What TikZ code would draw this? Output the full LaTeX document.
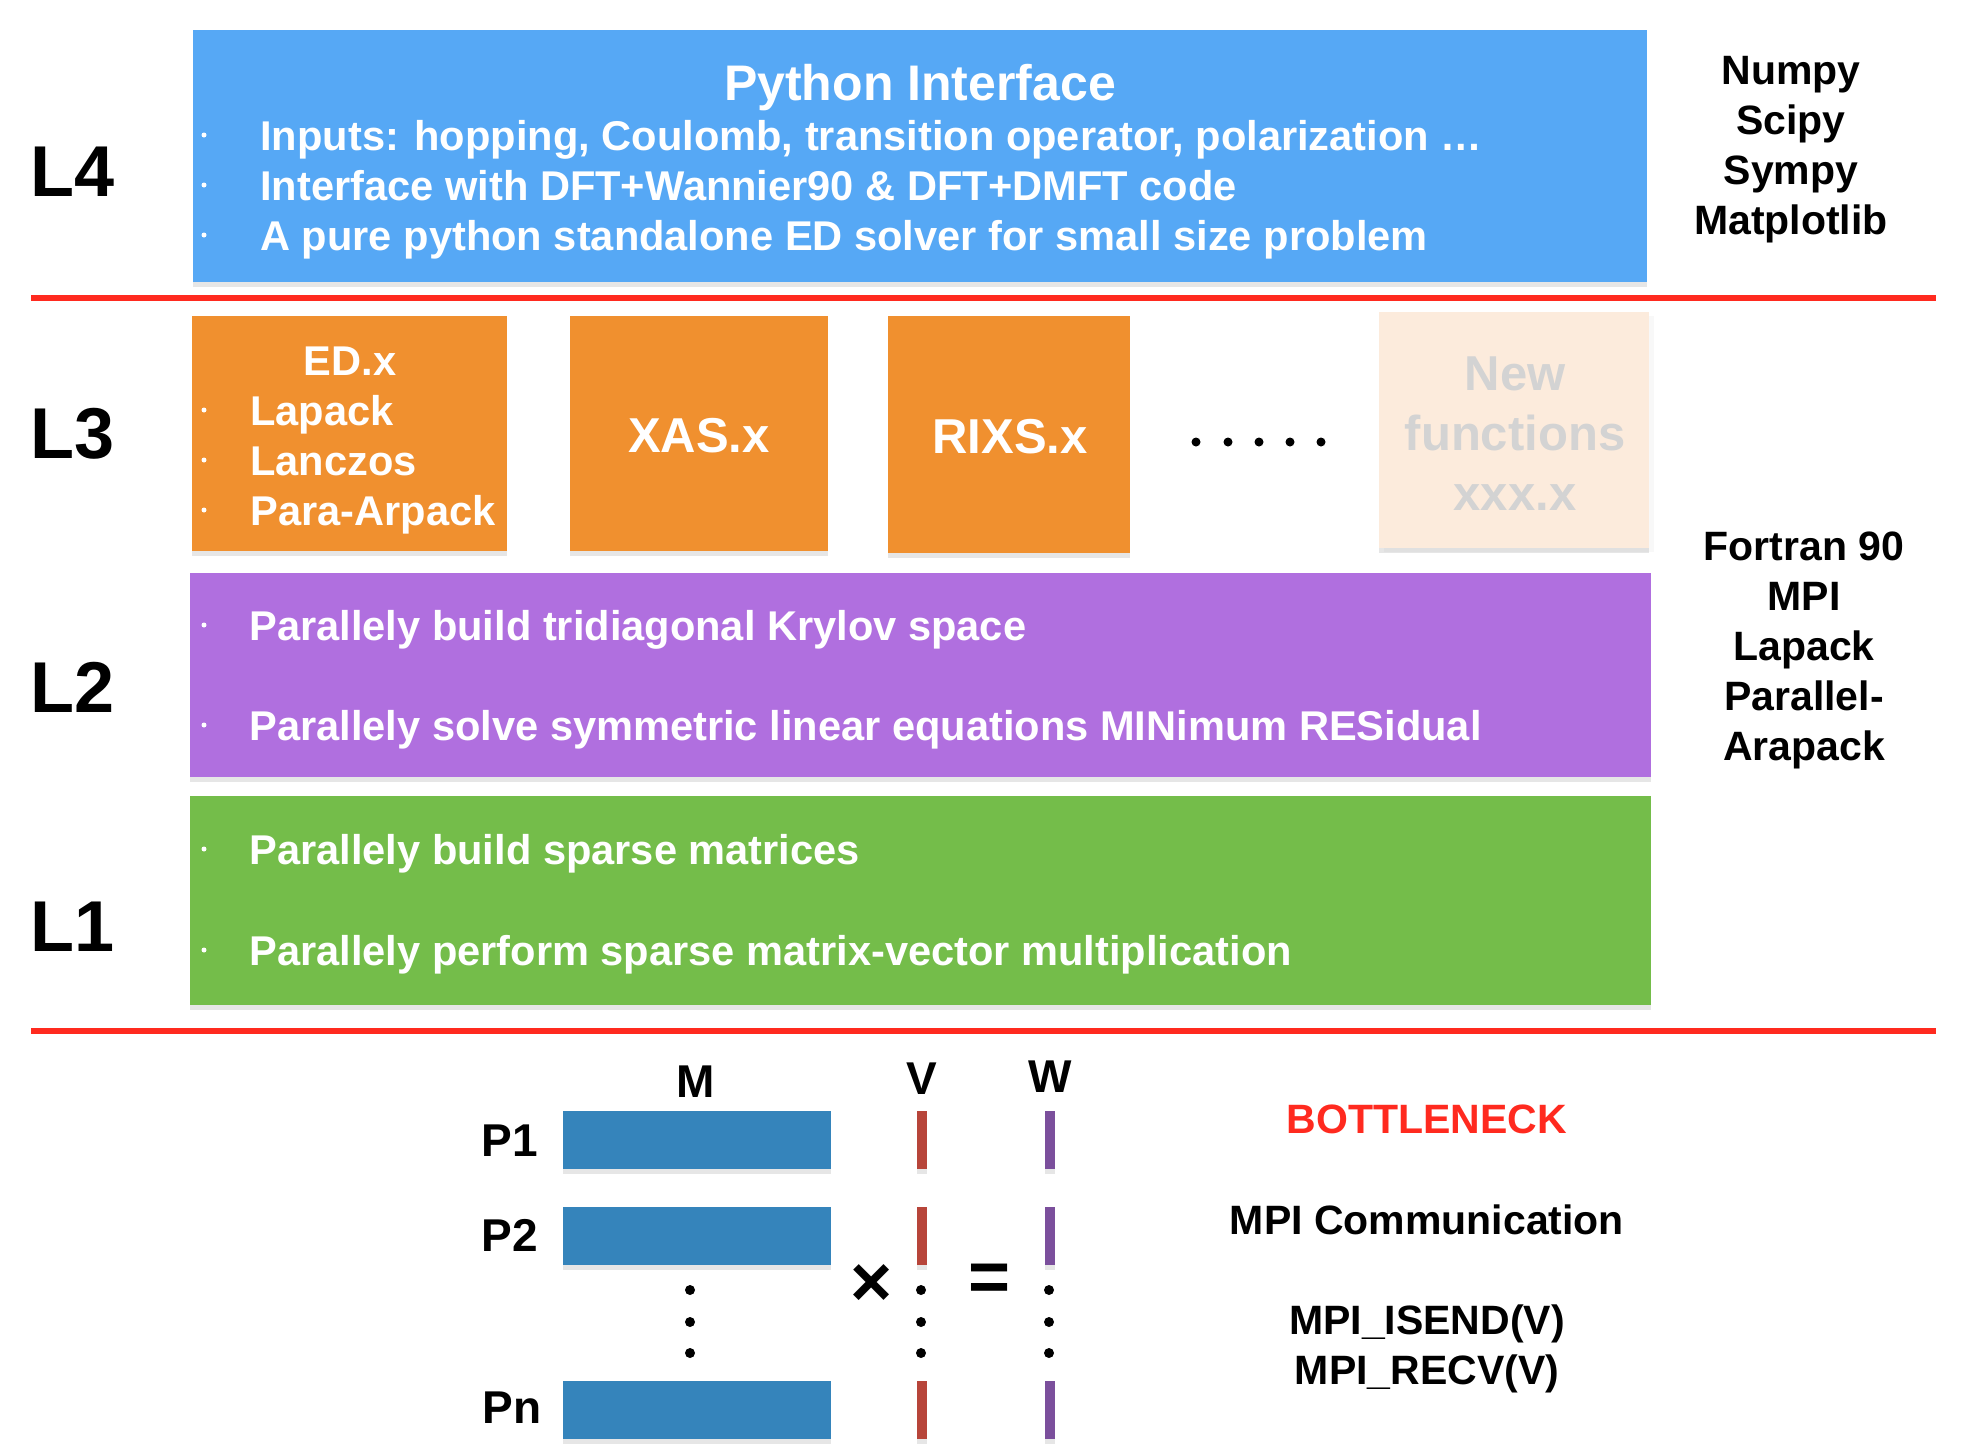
\documentclass[tikz,border=0pt]{standalone}
\usepackage{fontspec}
\setmainfont{Liberation Sans}
\usepackage{tikz}
\usetikzlibrary{shadows}
\definecolor{pyblue}{HTML}{56A8F5}
\definecolor{edorange}{HTML}{F0902F}
\definecolor{newpeach}{HTML}{FCEBDC}
\definecolor{newgray}{HTML}{D3D3D3}
\definecolor{lpurple}{HTML}{B06FDF}
\definecolor{lgreen}{HTML}{74BD4A}
\definecolor{sepred}{HTML}{FF2A1F}
\definecolor{matblue}{HTML}{3584BB}
\definecolor{vred}{HTML}{B7453A}
\definecolor{wpurple}{HTML}{7B4F9C}

\begin{document}
\begin{tikzpicture}[x=0.5pt, y=-0.5pt,
  layer/.style={rectangle, inner sep=0pt, draw=none, drop shadow={shadow xshift=0pt, shadow yshift=-2.5pt, opacity=.2}},
  txt/.style={text=white, anchor=base west, inner sep=0pt, font=\fontsize{20.8}{25}\selectfont\bfseries},
  ctxt/.style={txt, anchor=base},
  big/.style={ctxt, font=\fontsize{24.5}{29}\selectfont\bfseries},
  lname/.style={anchor=base, inner sep=0pt, font=\fontsize{36}{40}\selectfont\bfseries},
  side/.style={align=center, inner sep=0pt, font=\fontsize{20.5}{25}\selectfont\bfseries},
  lbl/.style={anchor=base, inner sep=0pt, font=\fontsize{23}{27}\selectfont\bfseries},
  sepline/.style={sepred, line width=2.6pt}]
  \useasboundingbox (0,0) rectangle (1974,1452);

  % layer boxes
  \node[layer, fill=pyblue, minimum width=727pt, minimum height=126pt] (python) at (920,156) {};
  \node[layer, fill=edorange, minimum width=157.75pt, minimum height=117.5pt] (ed) at (349.5,433.5) {};
  \node[layer, fill=edorange, minimum width=129pt, minimum height=117.5pt] (xas) at (699,433.5) {};
  \node[layer, fill=edorange, minimum width=121pt, minimum height=118.5pt] (rixs) at (1009,434.5) {};
  \node[layer, fill=newpeach, drop shadow={shadow yshift=-2pt, opacity=.06}, minimum width=135pt, minimum height=118pt] (newfun) at (1514,430) {};
  \node[layer, fill=lpurple, minimum width=730.5pt, minimum height=102pt] (krylov) at (920.5,675) {};
  \node[layer, fill=lgreen, minimum width=730.5pt, minimum height=104.5pt] (sparse) at (920.5,900.5) {};

  \draw[sepline] (31,298) -- (1936,298);
  \draw[sepline] (31,1031) -- (1936,1031);

  % L4
  \node[ctxt, font=\fontsize{25}{30}\selectfont\bfseries] (pytitle) at (920,100) {Python Interface};
  \node[txt] (inputs) at (260,150) {Inputs: hopping, Coulomb, transition operator, polarization \dots};
  \node[txt] (wannier) at (260,200) {Interface with DFT+Wannier90 \& DFT+DMFT code};
  \node[txt] (pured) at (260,250) {A pure python standalone ED solver for small size problem};
  \fill[white] (204,135) circle (2.5) (204,185) circle (2.5) (204,235) circle (2.5);

  % L3
  \node[ctxt] (edx) at (350,375) {ED.x};
  \node[txt] (lapack) at (250,425) {Lapack};
  \node[txt] (lanczos) at (250,475) {Lanczos};
  \node[txt] (arpack) at (250,525) {Para-Arpack};
  \fill[white] (204,410) circle (2.5) (204,460) circle (2.5) (204,510) circle (2.5);
  \node[big] (xasx) at (699,452) {XAS.x};
  \node[big] (rixsx) at (1010,453) {RIXS.x};
  \node[big, text=newgray] (newtxt) at (1515,390) {New};
  \node[big, text=newgray] (funtxt) at (1515,450) {functions};
  \node[big, text=newgray] (xxxtxt) at (1515,510) {xxx.x};
  \fill (1196,442) circle (4.5) (1228,442) circle (4.5) (1259,442) circle (4.5)
        (1290,442) circle (4.5) (1321,442) circle (4.5);

  % L2
  \node[txt] (tridiag) at (249,640) {Parallely build tridiagonal Krylov space};
  \node[txt] (minres) at (249,740) {Parallely solve symmetric linear equations MINimum RESidual};
  \fill[white] (204,625) circle (2.5) (204,725) circle (2.5);

  % L1
  \node[txt] (buildsp) at (249,864) {Parallely build sparse matrices};
  \node[txt] (matvec) at (249,965) {Parallely perform sparse matrix-vector multiplication};
  \fill[white] (204,849) circle (2.5) (204,950) circle (2.5);

  \node[lname] (L4) at (73,196) {L4};
  \node[lname] (L3) at (73,458) {L3};
  \node[lname] (L2) at (73,712) {L2};
  \node[lname] (L1) at (73,951) {L1};

  \node[side] (pylibs) at (1791,150) {Numpy\\Scipy\\Sympy\\Matplotlib};
  \node[side] (flibs) at (1804,650) {Fortran 90\\MPI\\Lapack\\Parallel-\\Arapack};

  % matrix-vector product
  \node[lbl] (mlab) at (696,1097) {M};
  \node[lbl] (vlab) at (922,1094) {V};
  \node[lbl] (wlab) at (1050,1092) {W};
  \node[lbl] (p1) at (510,1156) {P1};
  \node[lbl] (p2) at (510,1251) {P2};
  \node[lbl] (pn) at (512,1423) {Pn};
  \node[layer, fill=matblue, minimum width=134pt, minimum height=29pt] (m1) at (697,1139.5) {};
  \node[layer, fill=matblue, minimum width=134pt, minimum height=29pt] (m2) at (697,1236) {};
  \node[layer, fill=matblue, minimum width=134pt, minimum height=29pt] (mn) at (697,1410) {};
  \node[layer, fill=vred, minimum width=5pt, minimum height=29pt] (v1) at (922,1139.5) {};
  \node[layer, fill=vred, minimum width=5pt, minimum height=29pt] (v2) at (922,1236) {};
  \node[layer, fill=vred, minimum width=5pt, minimum height=29pt] (vn) at (922,1410) {};
  \node[layer, fill=wpurple, minimum width=5pt, minimum height=29pt] (w1) at (1050,1139.5) {};
  \node[layer, fill=wpurple, minimum width=5pt, minimum height=29pt] (w2) at (1050,1236) {};
  \node[layer, fill=wpurple, minimum width=5pt, minimum height=29pt] (wn) at (1050,1410) {};
  \fill (690,1290) circle (5) (690,1322) circle (5) (690,1353) circle (5);
  \fill (921,1290) circle (5) (921,1322) circle (5) (921,1353) circle (5);
  \fill (1049,1290) circle (5) (1049,1322) circle (5) (1049,1353) circle (5);
  \node[inner sep=0pt, font=\fontsize{36}{40}\selectfont\bfseries] (times) at (872,1285) {×};
  \node[inner sep=0pt, font=\fontsize{36}{40}\selectfont\bfseries] (equals) at (990,1283) {=};

  \node[lbl, font=\fontsize{20.5}{25}\selectfont\bfseries, text=sepred] (bneck) at (1427,1133) {BOTTLENECK};
  \node[lbl, font=\fontsize{20.5}{25}\selectfont\bfseries] (mpicomm) at (1427,1234) {MPI Communication};
  \node[lbl, font=\fontsize{20.5}{25}\selectfont\bfseries] (isend) at (1427,1334) {MPI\_ISEND(V)};
  \node[lbl, font=\fontsize{20.5}{25}\selectfont\bfseries] (recv) at (1427,1384) {MPI\_RECV(V)};
\end{tikzpicture}
\end{document}
